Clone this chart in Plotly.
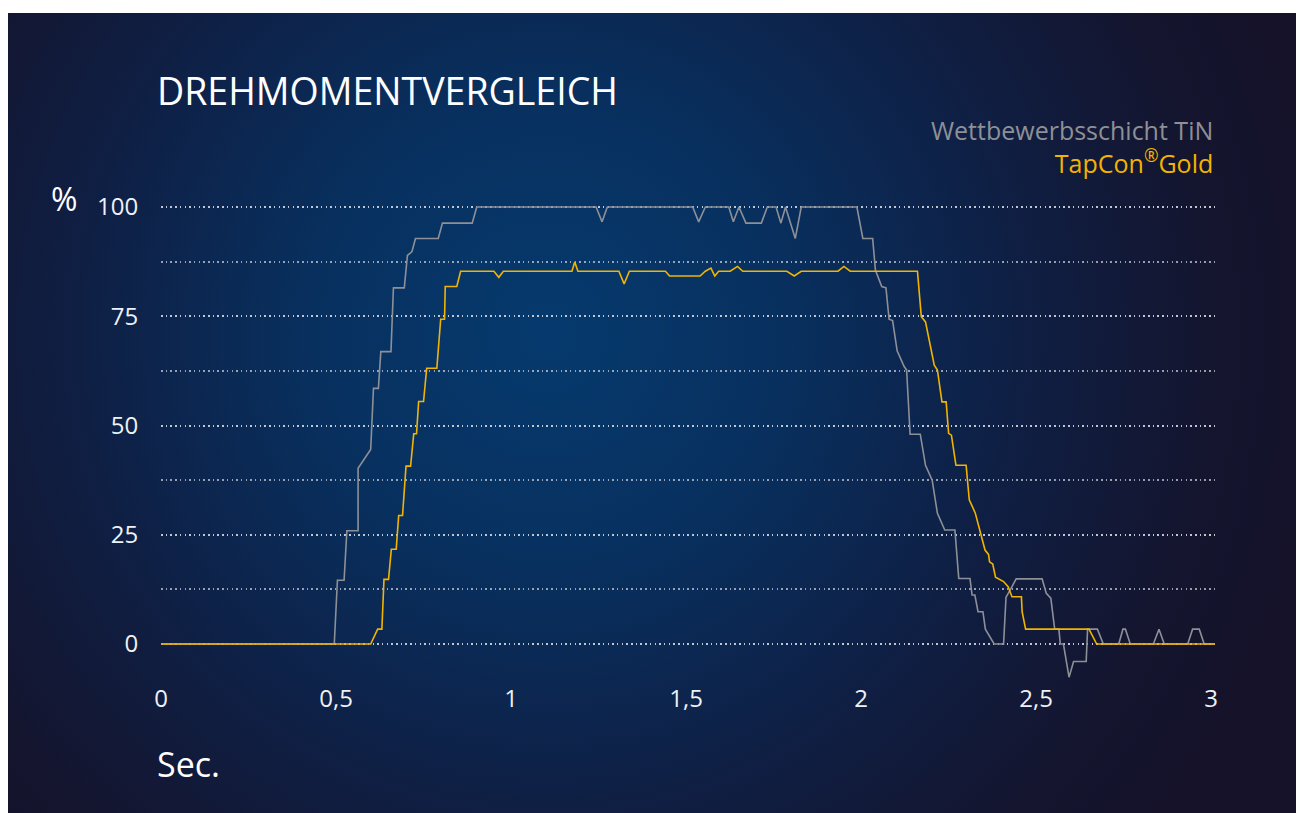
import base64
import plotly.graph_objects as go

# ---------------- data ----------------
tin_t = [0, 0.495, 0.504, 0.523, 0.531, 0.563, 0.563, 0.599, 0.607, 0.621, 0.628, 0.657, 0.664,
         0.695, 0.704, 0.717, 0.727, 0.792, 0.804, 0.889, 0.902, 1.243, 1.260, 1.275, 1.519, 1.536,
         1.555, 1.622, 1.635, 1.651, 1.671, 1.715, 1.732, 1.757, 1.771, 1.784, 1.812, 1.829, 1.988,
         2.005, 2.033, 2.041, 2.059, 2.071, 2.080, 2.090, 2.103, 2.123, 2.130, 2.140, 2.169, 2.184,
         2.203, 2.218, 2.239, 2.268, 2.279, 2.311, 2.317, 2.325, 2.334, 2.348, 2.355, 2.380, 2.407,
         2.414, 2.426, 2.443, 2.517, 2.529, 2.542, 2.553, 2.565, 2.569, 2.578, 2.594, 2.607, 2.643,
         2.647, 2.675, 2.692, 2.736, 2.748, 2.755, 2.769, 2.835, 2.851, 2.866, 2.933, 2.947, 2.966,
         2.980, 3.011]
tin_v = [0, 0, 14.6, 14.6, 25.9, 25.9, 40.2, 44.5, 58.5, 58.5, 66.9, 66.9, 81.5,
         81.5, 88.9, 89.8, 92.8, 92.8, 96.3, 96.3, 100, 100, 96.6, 100, 100, 96.6,
         100, 100, 96.6, 100, 96.3, 96.3, 100, 100, 96.3, 100, 92.8, 100, 100,
         92.8, 92.8, 85.5, 81.8, 81.5, 74.3, 74.0, 67.1, 63.5, 62.7, 48.0, 48.0, 40.9,
         37.5, 29.9, 26.1, 26.1, 15.0, 15.0, 11.2, 11.2, 7.4, 7.4, 3.4, 0, 0,
         10.7, 12.4, 14.9, 14.9, 11.6, 10.5, 3.4, 3.4, 0, 0, -7.6, -4.0, -4.0,
         3.4, 3.4, 0, 0, 3.4, 3.4, 0, 0, 3.4, 0, 0, 3.4, 3.4,
         0, 0]

gold_t = [0, 0.599, 0.619, 0.631, 0.637, 0.650, 0.658, 0.672, 0.679, 0.690, 0.700, 0.713, 0.722,
          0.730, 0.736, 0.750, 0.759, 0.788, 0.799, 0.810, 0.812, 0.845, 0.856, 0.951, 0.965, 0.978,
          1.174, 1.182, 1.191, 1.308, 1.323, 1.338, 1.441, 1.453, 1.540, 1.555, 1.571, 1.582, 1.593,
          1.626, 1.647, 1.662, 1.788, 1.809, 1.829, 1.934, 1.951, 1.969, 2.161, 2.172, 2.184, 2.209,
          2.218, 2.231, 2.243, 2.250, 2.258, 2.271, 2.300, 2.309, 2.326, 2.345, 2.354, 2.364, 2.367,
          2.376, 2.384, 2.407, 2.420, 2.431, 2.458, 2.460, 2.470, 2.651, 2.673, 3.011]
gold_v = [0, 0, 3.4, 3.4, 14.8, 14.8, 21.7, 21.7, 29.4, 29.4, 40.7, 40.7, 48.1,
          48.1, 55.5, 55.5, 63.1, 63.1, 74.3, 74.3, 81.8, 81.8, 85.3, 85.3, 83.9, 85.3,
          85.3, 87.4, 85.3, 85.3, 82.4, 85.3, 85.3, 84.2, 84.2, 85.3, 86.0, 84.2, 85.3,
          85.3, 86.4, 85.3, 85.3, 84.2, 85.3, 85.3, 86.4, 85.3, 85.3, 74.9, 73.7, 63.8,
          62.7, 55.4, 55.4, 48.2, 47.8, 40.9, 40.9, 33.0, 30.0, 23.8, 21.5, 20.5, 18.8,
          18.3, 15.3, 14.3, 13.1, 10.8, 10.8, 7.4, 3.4, 3.4, 0, 0]

series_names = ["Wettbewerbsschicht TiN", "TapCon<sup>®</sup>Gold"]
y_tickvals = [0, 25, 50, 75, 100]
x_tickvals = [0, 0.5, 1, 1.5, 2, 2.5, 3]
title_text = "DREHMOMENTVERGLEICH"

# ---------------- style ----------------
W, H = 1304, 813
OFF = 8  # page body margin of the html page
# plot area in page pixels: x 161..1215, y 185..683
ML = 161 - OFF
MT = 185 - OFF
PW = 1054
PH = 498
MR = W - ML - PW
MB = H - MT - PH
GRAY = "#8d9097"
GOLD = "#f2b400"
FONT = "Open Sans"

svg = f'''<svg xmlns="http://www.w3.org/2000/svg" width="{W}" height="810" viewBox="0 0 {W} 810" preserveAspectRatio="none">
<defs><radialGradient id="g" gradientUnits="userSpaceOnUse" cx="540" cy="320" r="780">
<stop offset="0" stop-color="#063a6e"/>
<stop offset="0.3" stop-color="#08305f"/>
<stop offset="0.6" stop-color="#0f1f44"/>
<stop offset="0.85" stop-color="#14152f"/>
<stop offset="1" stop-color="#15122a"/>
</radialGradient></defs>
<rect x="0" y="0" width="{W}" height="810" fill="url(#g)"/></svg>'''
svg_uri = "data:image/svg+xml;base64," + base64.b64encode(svg.encode()).decode()


def px_x(p):  # page pixel -> paper x
    return (p - OFF - ML) / PW


def px_y(p):  # page pixel -> paper y
    return (MT + PH - (p - OFF)) / PH


fig = go.Figure()
fig.add_trace(go.Scatter(x=tin_t, y=tin_v, mode="lines", name=series_names[0],
                         line=dict(color=GRAY, width=1.6), hoverinfo="skip"))
fig.add_trace(go.Scatter(x=gold_t, y=gold_v, mode="lines", name=series_names[1],
                         line=dict(color=GOLD, width=1.6), hoverinfo="skip"))

fig.add_layout_image(dict(source=svg_uri, xref="paper", yref="paper",
                          x=px_x(OFF), y=px_y(13), sizex=W / PW, sizey=810 / PH,
                          xanchor="left", yanchor="top", sizing="stretch", layer="below"))

grid_col = "rgba(210,215,225,0.7)"
fig.update_layout(
    width=W, height=H,
    margin=dict(l=ML, r=MR, t=MT, b=MB, pad=0),
    paper_bgcolor="white", plot_bgcolor="rgba(0,0,0,0)",
    showlegend=False, separators=",.",
    font=dict(family=FONT, color="#eef1f5", size=24),
    xaxis=dict(range=[0, 3.011], tickvals=x_tickvals, showgrid=False, zeroline=False,
               showline=False, ticks="", ticklabelstandoff=-1,
               tickfont=dict(size=24, color="#eef1f5")),
    yaxis=dict(range=[-8.92, 105.03], tickvals=y_tickvals, showgrid=True, gridcolor=grid_col,
               griddash="1.5px,3.2px", gridwidth=1.5, zeroline=False, showline=False,
               ticks="outside", ticklen=17, tickcolor="rgba(0,0,0,0)",
               tickfont=dict(size=24, color="#eef1f5"),
               minor=dict(dtick=12.5, tick0=0, showgrid=True, gridcolor=grid_col,
                          griddash="1.5px,3.2px", gridwidth=1.5)),
)

fig.add_annotation(text=title_text, xref="paper", yref="paper", x=px_x(155), y=px_y(90),
                   xanchor="left", yanchor="middle", showarrow=False,
                   font=dict(family=FONT, size=37.5, color="#ffffff"))
legend_text = (f'<span style="color:{GRAY}">{series_names[0]}</span><br>'
               f'<span style="color:{GOLD}">{series_names[1]}</span>')
fig.add_annotation(text=legend_text, xref="paper", yref="paper", x=px_x(1215), y=px_y(147),
                   xanchor="right", yanchor="middle", align="right", showarrow=False,
                   font=dict(family=FONT, size=25, color=GRAY))
fig.add_annotation(text="%", xref="paper", yref="paper", x=px_x(64), y=px_y(198),
                   xanchor="center", yanchor="middle", showarrow=False,
                   font=dict(family=FONT, size=32, color="#ffffff"))
fig.add_annotation(text="Sec.", xref="paper", yref="paper", x=px_x(155), y=px_y(764),
                   xanchor="left", yanchor="middle", showarrow=False,
                   font=dict(family=FONT, size=34, color="#ffffff"))

fig.write_html("out.html")
